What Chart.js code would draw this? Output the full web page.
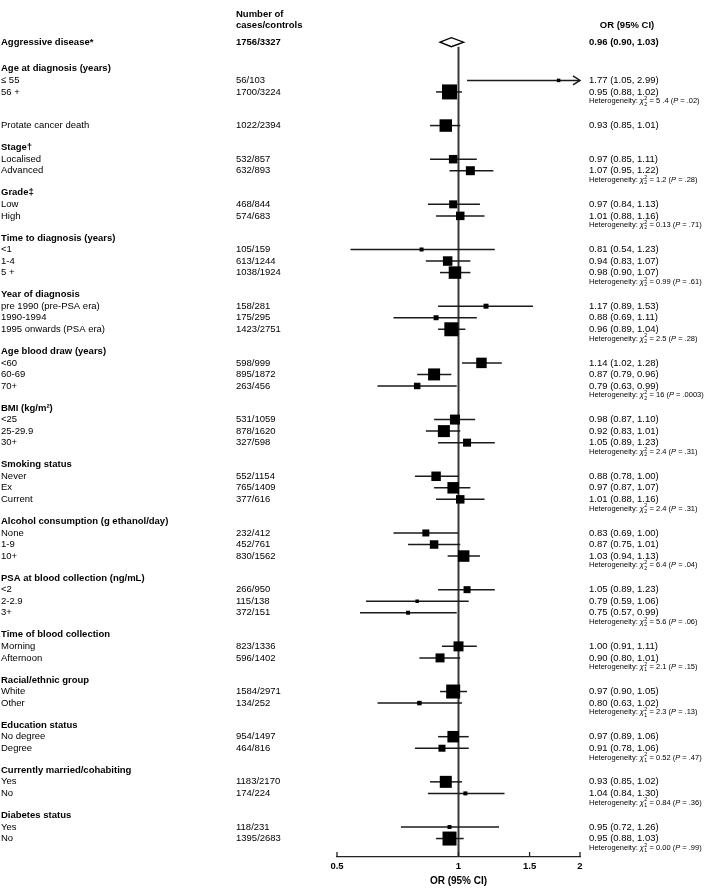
<!DOCTYPE html>
<html>
<head>
<meta charset="utf-8">
<script src="https://cdn.jsdelivr.net/npm/chart.js@4.4.1/dist/chart.umd.min.js"></script>
<style>
  html, body { margin: 0; padding: 0; background: #fff; }
  canvas { display: block; }
</style>
</head>
<body>
<canvas id="forest" width="709" height="888"></canvas>
<script>
// ---- values ----
const overallLabel = 'Aggressive disease*';
const overallCases = '1756/3327';
const overallOR = [0.96, 0.90, 1.03];

const groupTitles = [
  'Age at diagnosis (years)', '', 'Stage†', 'Grade‡', 'Time to diagnosis (years)',
  'Year of diagnosis', 'Age blood draw (years)', 'BMI (kg/m²)', 'Smoking status',
  'Alcohol consumption (g ethanol/day)', 'PSA at blood collection (ng/mL)',
  'Time of blood collection', 'Racial/ethnic group', 'Education status',
  'Currently married/cohabiting', 'Diabetes status',
];
const groupSizes = [2, 1, 2, 2, 3, 3, 3, 3, 3, 3, 3, 2, 2, 2, 2, 2];

const itemLabels = [
  '≤ 55', '56 +', 'Protate cancer death', 'Localised', 'Advanced', 'Low', 'High',
  '<1', '1-4', '5 +', 'pre 1990 (pre-PSA era)', '1990-1994', '1995 onwards (PSA era)',
  '<60', '60-69', '70+', '<25', '25-29.9', '30+', 'Never', 'Ex', 'Current',
  'None', '1-9', '10+', '<2', '2-2.9', '3+', 'Morning', 'Afternoon',
  'White', 'Other', 'No degree', 'Degree', 'Yes', 'No', 'Yes', 'No',
];
const itemCases = [
  '56/103', '1700/3224', '1022/2394', '532/857', '632/893', '468/844', '574/683',
  '105/159', '613/1244', '1038/1924', '158/281', '175/295', '1423/2751',
  '598/999', '895/1872', '263/456', '531/1059', '878/1620', '327/598',
  '552/1154', '765/1409', '377/616', '232/412', '452/761', '830/1562',
  '266/950', '115/138', '372/151', '823/1336', '596/1402', '1584/2971', '134/252',
  '954/1497', '464/816', '1183/2170', '174/224', '118/231', '1395/2683',
];
const orEst = [
  1.77, 0.95, 0.93, 0.97, 1.07, 0.97, 1.01, 0.81, 0.94, 0.98, 1.17, 0.88, 0.96,
  1.14, 0.87, 0.79, 0.98, 0.92, 1.05, 0.88, 0.97, 1.01, 0.83, 0.87, 1.03,
  1.05, 0.79, 0.75, 1.00, 0.90, 0.97, 0.80, 0.97, 0.91, 0.93, 1.04, 0.95, 0.95,
];
const orLow = [
  1.05, 0.88, 0.85, 0.85, 0.95, 0.84, 0.88, 0.54, 0.83, 0.90, 0.89, 0.69, 0.89,
  1.02, 0.79, 0.63, 0.87, 0.83, 0.89, 0.78, 0.87, 0.88, 0.69, 0.75, 0.94,
  0.89, 0.59, 0.57, 0.91, 0.80, 0.90, 0.63, 0.89, 0.78, 0.85, 0.84, 0.72, 0.88,
];
const orHigh = [
  2.99, 1.02, 1.01, 1.11, 1.22, 1.13, 1.16, 1.23, 1.07, 1.07, 1.53, 1.11, 1.04,
  1.28, 0.96, 0.99, 1.10, 1.01, 1.23, 1.00, 1.07, 1.16, 1.00, 1.01, 1.13,
  1.23, 1.06, 0.99, 1.11, 1.01, 1.05, 1.02, 1.06, 1.06, 1.02, 1.30, 1.26, 1.03,
];
// relative study weight (drives the box size)
const boxWeight = [
  3.5, 15, 12.5, 8.5, 9, 8, 8.5, 4, 9.5, 12.5, 5, 5, 14,
  10.5, 12, 6.5, 10, 12, 8, 9.5, 11.5, 8.5, 7, 8.5, 11.5,
  7, 3.5, 4, 10, 9, 14, 4.5, 11.5, 7, 12, 4, 4, 14,
];

// heterogeneity per group (null = none)
const hetDf  = [2, null, 2, 2, 2, 2, 2, 2, 2, 2, 2, 1, 1, 1, 1, 1];
const hetChi = ['5 .4', null, '1.2', '0.13', '0.99', '2.5', '16', '2.4', '2.4', '6.4', '5.6', '2.1', '2.3', '0.52', '0.84', '0.00'];
const hetP   = ['.02', null, '.28', '.71', '.61', '.28', '.0003', '.31', '.31', '.04', '.06', '.15', '.13', '.47', '.36', '.99'];

const xTicks = [0.5, 1, 1.5, 2];

// ---- row layout (in row units) ----
const FIRST_GAP = 2.31, GAP = 1.915, HET_OFF = 0.8;
const rows = [];
let pos = 0, k = 0;
groupTitles.forEach((title, g) => {
  const head = pos + (g === 0 ? FIRST_GAP : GAP);
  rows.push({ type: 'head', text: title, y: head });
  for (let j = 1; j <= groupSizes[g]; j++) {
    rows.push({ type: 'item', i: k++, y: head + j });
  }
  pos = head + groupSizes[g];
  if (hetDf[g] !== null) rows.push({ type: 'het', g, y: pos + HET_OFF });
});
const Y_MIN = -2.74;
const Y_MAX = pos + 1.6;

const FONT = "'Liberation Sans', Arial, sans-serif";
const LABEL_X = 1, CASES_X = 236, OR_X = 589;

const fmtOR = (e, l, h) => `${e.toFixed(2)} (${l.toFixed(2)}, ${h.toFixed(2)})`;

function drawHet(ctx, x0, yc, df, chi, p) {
  let cx = x0;
  const part = (txt, font) => {
    ctx.font = font;
    ctx.fillText(txt, cx, yc);
    cx += ctx.measureText(txt).width;
  };
  part('Heterogeneity: ', `7.5px ${FONT}`);
  part('χ', `italic 7.5px ${FONT}`);
  ctx.font = `5.3px ${FONT}`;
  ctx.fillText('2', cx + 0.3, yc - 2.7);
  ctx.fillText(String(df), cx + 0.3, yc + 2.9);
  cx += ctx.measureText('2').width + 0.6;
  part(' = ' + chi + ' (', `7.5px ${FONT}`);
  part('P', `italic 7.5px ${FONT}`);
  part(' = ' + p + ')', `7.5px ${FONT}`);
}

const forestPlugin = {
  id: 'forest',
  beforeDatasetsDraw(chart) {
    const { ctx, scales: { x, y }, chartArea } = chart;
    ctx.save();
    // reference line at OR = 1
    const y0 = y.getPixelForValue(0);
    ctx.strokeStyle = '#383838';
    ctx.lineWidth = 2;
    ctx.beginPath();
    ctx.moveTo(x.getPixelForValue(1), y0 + 4.5);
    ctx.lineTo(x.getPixelForValue(1), chartArea.bottom);
    ctx.stroke();

    // confidence intervals
    ctx.strokeStyle = '#1a1a1a';
    ctx.lineWidth = 1.5;
    rows.filter(r => r.type === 'item').forEach(r => {
      const py = y.getPixelForValue(r.y);
      const hi = Math.min(orHigh[r.i], x.max);
      const x1 = x.getPixelForValue(orLow[r.i]);
      const x2 = x.getPixelForValue(hi);
      ctx.beginPath();
      ctx.moveTo(x1, py);
      ctx.lineTo(x2, py);
      ctx.stroke();
      if (orHigh[r.i] > x.max) {
        ctx.beginPath();
        ctx.moveTo(x2 - 7, py - 4.5);
        ctx.lineTo(x2, py);
        ctx.lineTo(x2 - 7, py + 4.5);
        ctx.stroke();
      }
    });

    // overall diamond
    ctx.fillStyle = '#fff';
    ctx.strokeStyle = '#000';
    ctx.lineWidth = 1.3;
    ctx.beginPath();
    ctx.moveTo(x.getPixelForValue(overallOR[1]), y0);
    ctx.lineTo(x.getPixelForValue(overallOR[0]), y0 - 4.5);
    ctx.lineTo(x.getPixelForValue(overallOR[2]), y0);
    ctx.lineTo(x.getPixelForValue(overallOR[0]), y0 + 4.5);
    ctx.closePath();
    ctx.fill();
    ctx.stroke();

    // upward tick marks on the axis
    ctx.strokeStyle = '#222';
    ctx.lineWidth = 1.3;
    xTicks.forEach(v => {
      const px = x.getPixelForValue(v);
      ctx.beginPath();
      ctx.moveTo(px, chartArea.bottom);
      ctx.lineTo(px, chartArea.bottom - 5);
      ctx.stroke();
    });
    ctx.restore();
  },
  afterDraw(chart) {
    const { ctx, scales: { y } } = chart;
    ctx.save();
    ctx.fillStyle = '#000';
    ctx.textBaseline = 'middle';
    const bold = `bold 9.5px ${FONT}`;
    const reg = `9.5px ${FONT}`;

    // column headers
    ctx.font = bold;
    ctx.fillText('Number of', CASES_X, y.getPixelForValue(-2.4));
    ctx.fillText('cases/controls', CASES_X, y.getPixelForValue(-1.42));
    ctx.textAlign = 'center';
    ctx.fillText('OR (95% CI)', OR_X + 38, y.getPixelForValue(-1.45));
    ctx.textAlign = 'left';

    // overall row
    const y0 = y.getPixelForValue(0);
    ctx.fillText(overallLabel, LABEL_X, y0);
    ctx.fillText(overallCases, CASES_X, y0);
    ctx.fillText(fmtOR(...overallOR), OR_X, y0);

    rows.forEach(r => {
      const py = y.getPixelForValue(r.y);
      if (r.type === 'head') {
        if (!r.text) return;
        ctx.font = bold;
        ctx.fillText(r.text, LABEL_X, py);
      } else if (r.type === 'item') {
        ctx.font = reg;
        ctx.fillText(itemLabels[r.i], LABEL_X, py);
        ctx.fillText(itemCases[r.i], CASES_X, py);
        ctx.fillText(fmtOR(orEst[r.i], orLow[r.i], orHigh[r.i]), OR_X, py);
      } else {
        drawHet(ctx, OR_X, py, hetDf[r.g], hetChi[r.g], hetP[r.g]);
      }
    });
    ctx.restore();
  },
};

const items = rows.filter(r => r.type === 'item');

new Chart(document.getElementById('forest'), {
  type: 'scatter',
  data: {
    datasets: [{
      label: 'OR',
      data: items.map(r => ({ x: orEst[r.i], y: r.y })),
      pointStyle: 'rect',
      pointRadius: items.map(r => boxWeight[r.i] / Math.SQRT2),
      backgroundColor: '#000',
      borderWidth: 0,
      clip: false,
    }],
  },
  options: {
    responsive: false,
    animation: false,
    events: [],
    layout: { padding: { left: 337, right: 129, top: 0, bottom: 0 } },
    plugins: { legend: { display: false }, tooltip: { enabled: false } },
    scales: {
      x: {
        type: 'logarithmic',
        min: 0.5,
        max: 2,
        afterBuildTicks: s => { s.ticks = xTicks.map(v => ({ value: v })); },
        afterFit: s => { s.height = 31; },
        grid: { display: true, drawOnChartArea: false, drawTicks: false },
        border: { display: true, color: '#222', width: 1.3 },
        ticks: {
          autoSkip: false,
          maxRotation: 0,
          padding: 4,
          color: '#000',
          font: { family: FONT, size: 9.5, weight: 'bold' },
          callback: v => String(v),
        },
        title: {
          display: true,
          text: 'OR (95% CI)',
          color: '#000',
          font: { family: FONT, size: 10, weight: 'bold' },
          padding: { top: 0, bottom: 1 },
        },
      },
      y: {
        type: 'linear',
        display: false,
        reverse: true,
        min: Y_MIN,
        max: Y_MAX,
      },
    },
  },
  plugins: [forestPlugin],
});
</script>
</body>
</html>
